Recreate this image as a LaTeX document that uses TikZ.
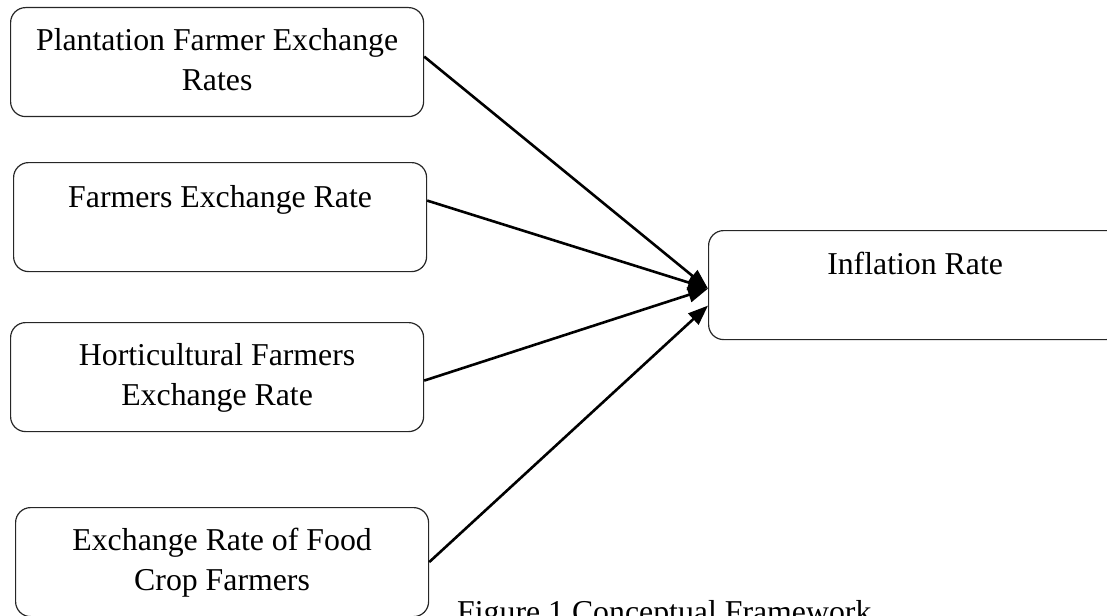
\documentclass[tikz,border=0pt]{standalone}
\usepackage{fontspec}
\setmainfont{Liberation Serif}
\usetikzlibrary{arrows.meta,calc}
\newcommand{\bxt}[2]{\parbox[c][109pt][t]{413pt}{\centering\rule{0pt}{#1}#2}}
\begin{document}
\begin{tikzpicture}[x=1pt,y=-1pt,
  fbox/.style={draw=black!85, line width=1.2pt, rounded corners=15pt, inner sep=0pt,
    minimum width=413pt, minimum height=109pt, anchor=north west,
    font=\fontsize{31.8pt}{39.5pt}\selectfont},
  conn/.style={line width=2.6pt, -{Triangle[length=20pt,width=15pt]}},
  captext/.style={font=\fontsize{31.8pt}{39.5pt}\selectfont, inner sep=0pt, anchor=base west}]
\useasboundingbox (0,0) rectangle (1107,615);
\clip (0,0) rectangle (1107,615);
\node[fbox] (b1) at (10,7) {\bxt{43pt}{Plantation Farmer Exchange\\Rates}};
\node[fbox] (b2) at (13,162) {\bxt{45pt}{Farmers Exchange Rate}};
\node[fbox] (b3) at (10,322) {\bxt{43pt}{Horticultural Farmers\\Exchange Rate}};
\node[fbox] (b4) at (15,507) {\bxt{43pt}{Exchange Rate of Food\\Crop Farmers}};
\node[fbox] (inf) at (708,230) {\bxt{44pt}{Inflation Rate}};
\node[captext] (cap) at (457,622) {Figure 1 Conceptual Framework};
\draw[conn] ([yshift=5.5pt]b1.east) -- ([yshift=-3.5pt]inf.west);
\draw[conn] ([yshift=16.5pt]b2.east) -- ([yshift=-3.5pt]inf.west);
\draw[conn] ([yshift=-3.5pt]b3.east) -- ([yshift=-3.5pt]inf.west);
\draw[conn] (b4.east) -- ([yshift=-20.5pt]inf.west);
\end{tikzpicture}
\end{document}
